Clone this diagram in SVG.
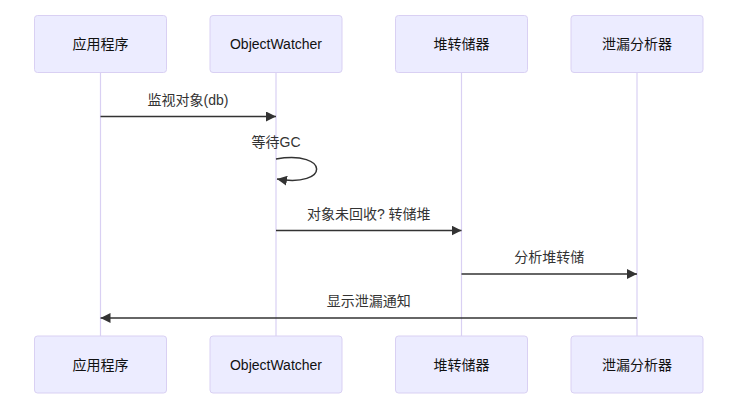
<svg xmlns="http://www.w3.org/2000/svg" width="737" height="411" viewBox="0 0 737 411">
<style>
.actor{fill:#ECECFF;stroke:#D9D0F3;stroke-width:1}
.lifeline{stroke:#D9D0F3;stroke-width:1.2;fill:none}
.msg{stroke:#333;stroke-width:1.5;fill:none}
.t{font-family:"Liberation Sans","Noto Sans CJK SC",sans-serif;font-size:14px;text-anchor:middle;dominant-baseline:central}
.at{fill:#111}
.mt{fill:#333}
</style>
<defs>
<marker id="arrow" viewBox="0 0 10 10" refX="10" refY="5" markerWidth="10" markerHeight="10" markerUnits="userSpaceOnUse" orient="auto">
<path d="M0,0 L10,5 L0,10 Z" fill="#333"/>
</marker>
</defs>
<rect width="737" height="411" fill="#fff"/>
<g id="lifelines">
<line class="lifeline" x1="100.5" y1="72.5" x2="100.5" y2="336"/>
<line class="lifeline" x1="276" y1="72.5" x2="276" y2="336"/>
<line class="lifeline" x1="461.5" y1="72.5" x2="461.5" y2="336"/>
<line class="lifeline" x1="637" y1="72.5" x2="637" y2="336"/>
</g>
<g id="actor-app">
<rect class="actor" x="34.5" y="15.5" width="132" height="57" rx="3"/>
<text class="t at" x="100.5" y="44">应用程序</text>
<rect class="actor" x="34.5" y="336" width="132" height="57" rx="3"/>
<text class="t at" x="100.5" y="364.5">应用程序</text>
</g>
<g id="actor-watcher">
<rect class="actor" x="210" y="15.5" width="132" height="57" rx="3"/>
<text class="t at" x="276" y="44">ObjectWatcher</text>
<rect class="actor" x="210" y="336" width="132" height="57" rx="3"/>
<text class="t at" x="276" y="364.5">ObjectWatcher</text>
</g>
<g id="actor-dumper">
<rect class="actor" x="395.5" y="15.5" width="132" height="57" rx="3"/>
<text class="t at" x="461.5" y="44">堆转储器</text>
<rect class="actor" x="395.5" y="336" width="132" height="57" rx="3"/>
<text class="t at" x="461.5" y="364.5">堆转储器</text>
</g>
<g id="actor-analyzer">
<rect class="actor" x="571" y="15.5" width="132" height="57" rx="3"/>
<text class="t at" x="637" y="44">泄漏分析器</text>
<rect class="actor" x="571" y="336" width="132" height="57" rx="3"/>
<text class="t at" x="637" y="364.5">泄漏分析器</text>
</g>
<g id="connectors">
<line class="msg" x1="100.5" y1="116.5" x2="276" y2="116.5" marker-end="url(#arrow)"/>
<text class="t mt" x="188" y="99.5">监视对象(db)</text>
<path class="msg" d="M276,159 C330,150 330,188 277,179" marker-end="url(#arrow)"/>
<text class="t mt" x="276" y="141.5">等待GC</text>
<line class="msg" x1="276" y1="230.5" x2="461.5" y2="230.5" marker-end="url(#arrow)"/>
<text class="t mt" x="368.75" y="213.5">对象未回收? 转储堆</text>
<line class="msg" x1="461.5" y1="274" x2="637" y2="274" marker-end="url(#arrow)"/>
<text class="t mt" x="549.25" y="256.5">分析堆转储</text>
<line class="msg" x1="637" y1="318" x2="100.5" y2="318" marker-end="url(#arrow)"/>
<text class="t mt" x="368.75" y="300.5">显示泄漏通知</text>
</g>
</svg>
